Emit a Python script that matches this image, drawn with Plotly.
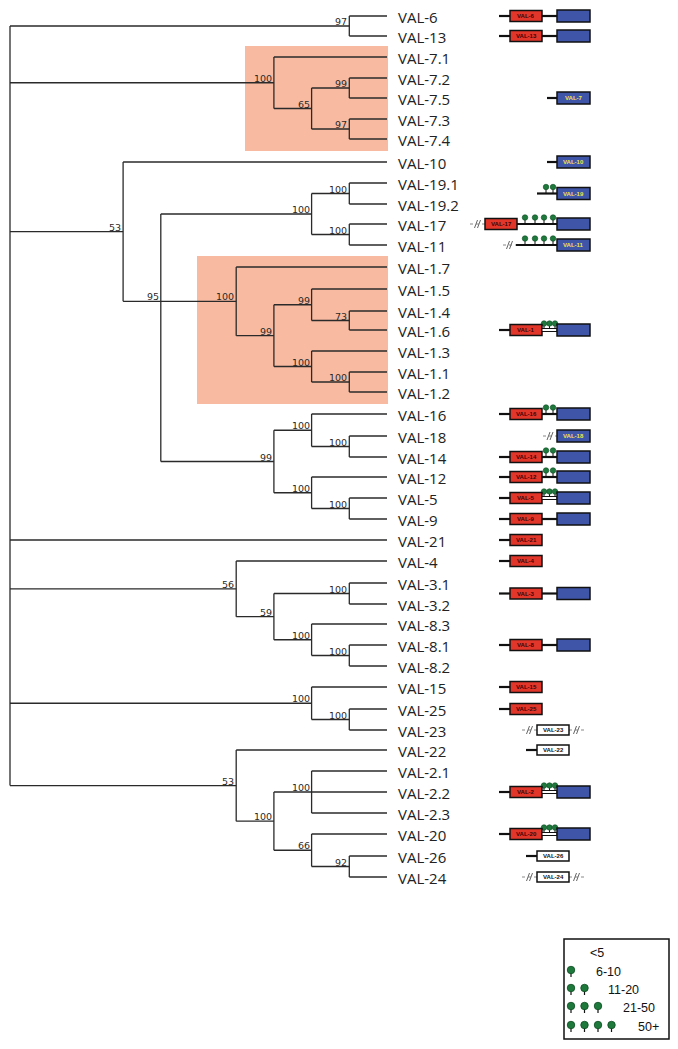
import statistics
import plotly.graph_objects as go

W, H = 678, 1049
PAGE_MARGIN = 8  # default body margin of the written html page

# ---------------- data ----------------
leaf_names = ["VAL-6", "VAL-13", "VAL-7.1", "VAL-7.2", "VAL-7.5", "VAL-7.3", "VAL-7.4",
              "VAL-10", "VAL-19.1", "VAL-19.2", "VAL-17", "VAL-11",
              "VAL-1.7", "VAL-1.5", "VAL-1.4", "VAL-1.6", "VAL-1.3", "VAL-1.1", "VAL-1.2",
              "VAL-16", "VAL-18", "VAL-14", "VAL-12", "VAL-5", "VAL-9", "VAL-21",
              "VAL-4", "VAL-3.1", "VAL-3.2", "VAL-8.3", "VAL-8.1", "VAL-8.2",
              "VAL-15", "VAL-25", "VAL-23", "VAL-22", "VAL-2.1", "VAL-2.2", "VAL-2.3",
              "VAL-20", "VAL-26", "VAL-24"]
leaf_y = [16, 36, 57, 78, 98, 119, 139,
          162, 183, 204, 224, 245,
          267, 289, 311, 330, 351, 372, 392,
          414, 436, 457, 477, 498, 519, 540,
          561, 583, 604, 624, 645, 666,
          687, 709, 730, 750, 771, 792, 813,
          834, 856, 877]


def N(boot, level, children):
    return {"boot": boot, "level": level, "children": children}


# cladogram: bootstrap support, node depth level, children
tree = N("", 0, [
    N("97", 9, ["VAL-6", "VAL-13"]),
    N("100", 7, ["VAL-7.1", N("65", 8, [N("99", 9, ["VAL-7.2", "VAL-7.5"]),
                                        N("97", 9, ["VAL-7.3", "VAL-7.4"])])]),
    N("53", 3, ["VAL-10",
                N("95", 4, [
                    N("100", 8, [N("100", 9, ["VAL-19.1", "VAL-19.2"]),
                                 N("100", 9, ["VAL-17", "VAL-11"])]),
                    N("100", 6, ["VAL-1.7",
                                 N("99", 7, [N("99", 8, ["VAL-1.5", N("73", 9, ["VAL-1.4", "VAL-1.6"])]),
                                             N("100", 8, ["VAL-1.3", N("100", 9, ["VAL-1.1", "VAL-1.2"])])])]),
                    N("99", 7, [N("100", 8, ["VAL-16", N("100", 9, ["VAL-18", "VAL-14"])]),
                                N("100", 8, ["VAL-12", N("100", 9, ["VAL-5", "VAL-9"])])]),
                ])]),
    "VAL-21",
    N("56", 6, ["VAL-4", N("59", 7, [N("100", 9, ["VAL-3.1", "VAL-3.2"]),
                                     N("100", 8, ["VAL-8.3", N("100", 9, ["VAL-8.1", "VAL-8.2"])])])]),
    N("100", 8, ["VAL-15", N("100", 9, ["VAL-25", "VAL-23"])]),
    N("53", 6, ["VAL-22", N("100", 7, [N("100", 8, ["VAL-2.1", "VAL-2.2", "VAL-2.3"]),
                                       N("66", 8, ["VAL-20", N("92", 9, ["VAL-26", "VAL-24"])])])]),
])

highlight_first = ["VAL-7.1", "VAL-1.7"]
highlight_last = ["VAL-7.4", "VAL-1.2"]

gene_label = ["VAL-6", "VAL-13", "VAL-7", "VAL-10", "VAL-19", "VAL-17", "VAL-11", "VAL-1",
              "VAL-16", "VAL-18", "VAL-14", "VAL-12", "VAL-5", "VAL-9", "VAL-21", "VAL-4",
              "VAL-3", "VAL-8", "VAL-15", "VAL-25", "VAL-23", "VAL-22", "VAL-2", "VAL-20",
              "VAL-26", "VAL-24"]
gene_anchor = [["VAL-6"], ["VAL-13"], ["VAL-7.5"], ["VAL-10"], ["VAL-19.1", "VAL-19.2"],
               ["VAL-17"], ["VAL-11"], ["VAL-1.6"], ["VAL-16"], ["VAL-18"], ["VAL-14"],
               ["VAL-12"], ["VAL-5"], ["VAL-9"], ["VAL-21"], ["VAL-4"], ["VAL-3.1", "VAL-3.2"],
               ["VAL-8.1"], ["VAL-15"], ["VAL-25"], ["VAL-23"], ["VAL-22"], ["VAL-2.2"],
               ["VAL-20"], ["VAL-26"], ["VAL-24"]]
# RB = red + blue domain, B = blue only, R = red only, W = white (other)
gene_domains = ["RB", "RB", "B", "B", "B", "RB", "B", "RB", "RB", "B", "RB", "RB", "RB", "RB",
                "R", "R", "RB", "RB", "R", "R", "W", "W", "RB", "RB", "W", "W"]
gene_sites = [0, 0, 0, 0, 2, 4, 4, 3, 2, 0, 2, 2, 3, 0, 0, 0, 0, 0, 0, 0, 0, 0, 3, 3, 0, 0]
gene_breaks = ["", "", "", "", "", "L", "L", "", "", "L", "", "", "", "", "", "", "", "",
               "", "", "LR", "", "", "", "", "LR"]

legend_labels = ["<5", "6-10", "11-20", "21-50", "50+"]
legend_pins = [0, 1, 2, 3, 4]

# ---------------- style / layout constants ----------------
X0, STEP, LEAF_LEVEL = 10, 37.7, 10
RED, BLUE, GREEN = "#E2362B", "#3F55A8", "#1E7A3C"
SHADE = "#F8BAA0"
TREE_C = "#2a2a2a"


def xpos(level):
    return X0 + STEP * level


ymap = dict(zip(leaf_names, leaf_y))
tree_x, tree_y, boots = [], [], []


def lay(node):
    if isinstance(node, str):
        return xpos(LEAF_LEVEL), ymap[node]
    x = xpos(node["level"])
    kids = [lay(c) for c in node["children"]]
    ys = [k[1] for k in kids]
    y = statistics.median(ys)
    tree_x.extend([x, x, None])
    tree_y.extend([min(ys), max(ys), None])
    for kx, ky in kids:
        tree_x.extend([x, kx, None])
        tree_y.extend([ky, ky, None])
    if node["boot"]:
        boots.append((x, y, node["boot"]))
    return x, y


lay(tree)

fig = go.Figure()
shapes, annotations = [], []

# shaded clades
for f, l, xs in zip(highlight_first, highlight_last, [245, 197]):
    shapes.append(dict(type="rect", xref="x", yref="y", x0=xs, x1=xpos(LEAF_LEVEL) + 1,
                       y0=ymap[f] - 11, y1=ymap[l] + 12, fillcolor=SHADE,
                       line=dict(width=0), layer="below"))

fig.add_trace(go.Scatter(x=tree_x, y=tree_y, mode="lines",
                         line=dict(color=TREE_C, width=1.3), hoverinfo="skip"))

for x, y, b in boots:
    annotations.append(dict(x=x - 1, y=y, text=b, showarrow=False, xanchor="right",
                            yanchor="bottom", borderpad=0, yshift=-2,
                            font=dict(family="DejaVu Sans", size=9.5, color="#2a2a2a")))

for n, y in zip(leaf_names, leaf_y):
    annotations.append(dict(x=397, y=y + 1, text=n, showarrow=False, xanchor="left",
                            yanchor="middle", borderpad=0,
                            font=dict(family="Open Sans", size=15, color="#222")))

# ---------------- gene diagrams ----------------
blk_x, blk_y = [], []
gry_x, gry_y = [], []
brk_x, brk_y = [], []
stem_x, stem_y = [], []
head_x, head_y = [], []


def broken(xa, xb, y):
    gry_x.extend([xa, xb, None])
    gry_y.extend([y, y, None])
    xm = (xa + xb) / 2
    for d in (-1.5, 1.5):
        brk_x.extend([xm + d - 1.5, xm + d + 1.5, None])
        brk_y.extend([y + 4, y - 4, None])


def box(x0, x1, y, h, color, text, tcolor):
    shapes.append(dict(type="rect", xref="x", yref="y", x0=x0, x1=x1, y0=y - h / 2,
                       y1=y + h / 2, fillcolor=color, line=dict(color="#111", width=1.5),
                       layer="above"))
    if text:
        annotations.append(dict(x=(x0 + x1) / 2, y=y, text="<b>%s</b>" % text,
                                showarrow=False, xanchor="center", yanchor="middle",
                                borderpad=0,
                                font=dict(family="Liberation Sans", size=6, color=tcolor)))


LOL = {2: [546, 553], 3: [544, 549.5, 555], 4: [525, 535, 544, 553]}

for lab, anc, dom, ns, br in zip(gene_label, gene_anchor, gene_domains, gene_sites, gene_breaks):
    y = sum(ymap[a] for a in anc) / len(anc)
    if dom in ("RB", "R"):
        rx0 = 485 if ns == 4 else 510
        rx1 = rx0 + 32
        if "L" in br:
            broken(rx0 - 15, rx0, y)
        else:
            blk_x.extend([rx0 - 11, rx0, None]); blk_y.extend([y, y, None])
        box(rx0, rx1, y, 11, RED, lab, "#3a0505")
        if dom == "RB":
            if ns == 3:
                shapes.append(dict(type="rect", xref="x", yref="y", x0=rx1, x1=557,
                                   y0=y - 1.5, y1=y + 1.5, fillcolor="white",
                                   line=dict(color="#111", width=1), layer="above"))
            else:
                blk_x.extend([rx1, 557, None]); blk_y.extend([y, y, None])
            box(557, 590, y, 12, BLUE, "", "")
    elif dom == "B":
        start = {4: 516, 2: 537}.get(ns, 547)
        if "L" in br:
            if ns == 0:
                broken(543, 557, y)
                start = 557
            else:
                broken(start - 13, start, y)
        if start < 557:
            blk_x.extend([start, 557, None]); blk_y.extend([y, y, None])
        box(557, 590, y, 12, BLUE, lab, "#F2E64A")
    else:  # white
        if "L" in br:
            broken(522, 537, y)
        else:
            blk_x.extend([526, 537, None]); blk_y.extend([y, y, None])
        if "R" in br:
            broken(569, 584, y)
        box(537, 569, y, 10, "white", lab, "#111")
    for lx in LOL.get(ns, []):
        stem_x.extend([lx, lx, None]); stem_y.extend([y, y - 5.5, None])
        head_x.append(lx); head_y.append(y - 6.5)

fig.add_trace(go.Scatter(x=gry_x, y=gry_y, mode="lines",
                         line=dict(color="#888", width=1, dash="dot"), hoverinfo="skip"))
fig.add_trace(go.Scatter(x=brk_x, y=brk_y, mode="lines",
                         line=dict(color="#666", width=1), hoverinfo="skip"))
fig.add_trace(go.Scatter(x=blk_x, y=blk_y, mode="lines",
                         line=dict(color="#111", width=2.2), hoverinfo="skip"))
fig.add_trace(go.Scatter(x=stem_x, y=stem_y, mode="lines",
                         line=dict(color="#111", width=1), hoverinfo="skip"))
fig.add_trace(go.Scatter(x=head_x, y=head_y, mode="markers",
                         marker=dict(color=GREEN, size=5.5, line=dict(color="#0c4a20", width=0.6)),
                         hoverinfo="skip"))

# ---------------- legend ----------------
shapes.append(dict(type="rect", xref="x", yref="y", x0=564, x1=669, y0=939, y1=1039,
                   line=dict(color="#111", width=1.5), fillcolor="rgba(0,0,0,0)", layer="above"))
leg_text_x = [589, 595, 607, 622, 637]
leg_row_y = [953, 972, 990, 1008, 1027]
pin_x, pin_y, pstem_x, pstem_y = [], [], [], []
for lab, npin, tx, ry in zip(legend_labels, legend_pins, leg_text_x, leg_row_y):
    annotations.append(dict(x=tx, y=ry, text=lab, showarrow=False, xanchor="left",
                            yanchor="middle", borderpad=0,
                            font=dict(family="Liberation Sans", size=12.5, color="#111")))
    for i in range(npin):
        px = 571 + i * 13.5
        pin_x.append(px); pin_y.append(ry - 2)
        pstem_x.extend([px, px, None]); pstem_y.extend([ry - 2, ry + 5, None])
fig.add_trace(go.Scatter(x=pstem_x, y=pstem_y, mode="lines",
                         line=dict(color="#111", width=1.2), hoverinfo="skip"))
fig.add_trace(go.Scatter(x=pin_x, y=pin_y, mode="markers",
                         marker=dict(color=GREEN, size=7.5, line=dict(color="#0c4a20", width=0.8)),
                         hoverinfo="skip"))

# figure sits inside the page's default 8px body margin; axes map 1 unit = 1 page pixel
fig.update_layout(
    width=W - PAGE_MARGIN, height=H - PAGE_MARGIN, margin=dict(l=0, r=0, t=0, b=0),
    paper_bgcolor="white", plot_bgcolor="white", showlegend=False,
    xaxis=dict(range=[PAGE_MARGIN, W], visible=False, fixedrange=True),
    yaxis=dict(range=[H, PAGE_MARGIN], visible=False, fixedrange=True),
    shapes=shapes, annotations=annotations,
)

fig.write_html("out.html")
